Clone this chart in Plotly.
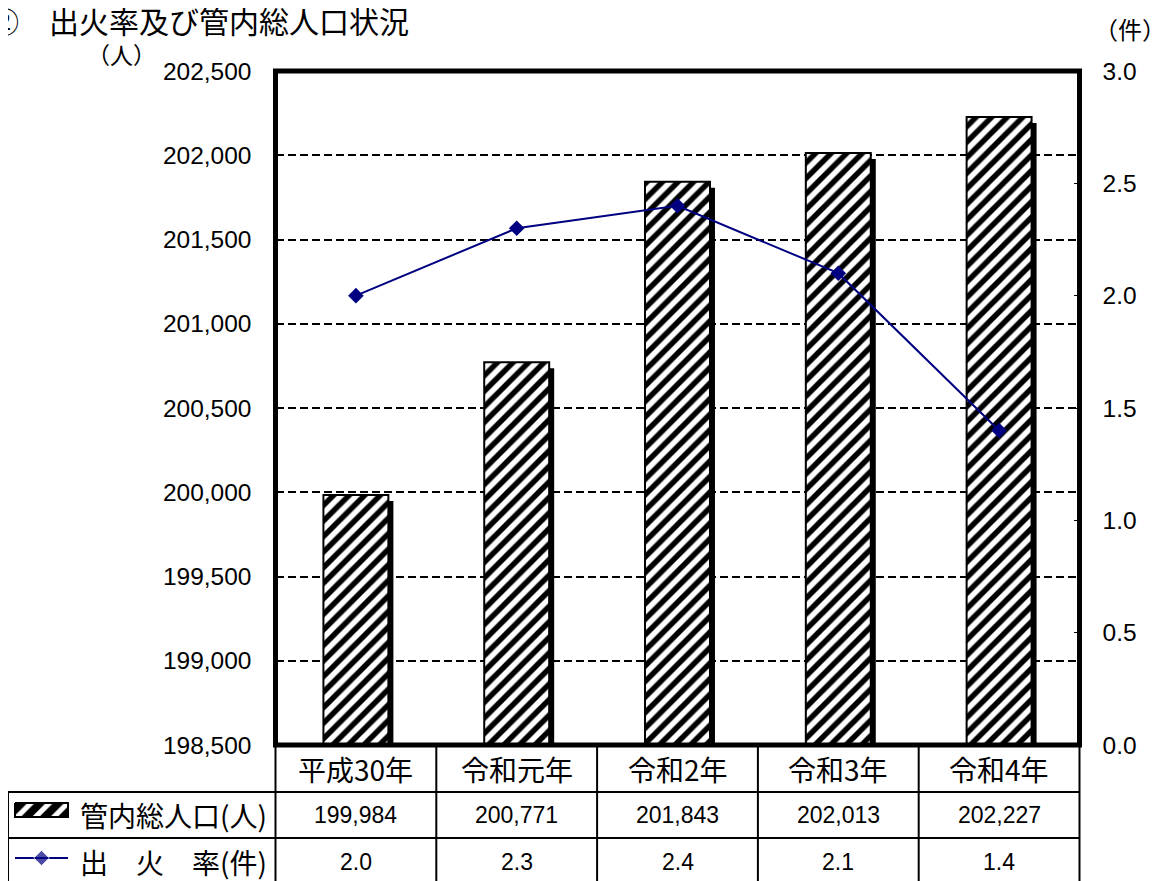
import plotly.graph_objects as go

# ---------------- data ----------------
categories = ["平成30年", "令和元年", "令和2年", "令和3年", "令和4年"]
population = [199984, 200771, 201843, 202013, 202227]
fire_rate = [2.0, 2.3, 2.4, 2.1, 1.4]

title_text = "②　出火率及び管内総人口状況"
left_unit = "（人）"
right_unit = "（件）"
row_label_pop = "管内総人口(人)"
row_label_rate = "出　火　率(件)"

# ---------------- layout helpers ----------------
# page has an 8px body margin, so figure coords = page coords - 8
OFF = 8
W, H = 1164 - OFF, 881 - OFF
def fx(px):
    return (px - OFF) / W
def fy(py):
    return 1 - (py - OFF) / H

PL, PR, PT, PB = 275.5, 1079.5, 71, 745   # plot box (page px)
Y_MIN, Y_MAX = 198500, 202500
Y2_MIN, Y2_MAX = 0, 3.0
cat_px = (PR - PL) / len(categories)
bar_w = 0.404
shadow_dx = 5 / cat_px
shadow_dy = 6 * (Y_MAX - Y_MIN) / (PB - PT)

JP = "Noto Sans CJK JP"
NUM = "Liberation Sans Narrow, Liberation Sans, Arial"
TICK = "Liberation Sans, Arial"
NAVY = "#000080"

fig = go.Figure()

# shadow bars
fig.add_trace(go.Bar(
    x=categories, y=[p - shadow_dy for p in population],
    width=bar_w, offset=-bar_w / 2 + shadow_dx,
    marker=dict(color="black", line=dict(width=0)),
    showlegend=False, hoverinfo="skip"))
# hatched bars
fig.add_trace(go.Bar(
    x=categories, y=population, width=bar_w, offset=-bar_w / 2,
    marker=dict(color="white", line=dict(color="black", width=2),
                pattern=dict(shape="/", fgcolor="black", bgcolor="white",
                             fgopacity=1, size=11, solidity=0.5)),
    showlegend=False, name=row_label_pop))
# fire rate line
fig.add_trace(go.Scatter(
    x=categories, y=fire_rate, yaxis="y2", mode="lines+markers",
    line=dict(color=NAVY, width=2),
    marker=dict(symbol="diamond", size=12, color=NAVY),
    showlegend=False, name=row_label_rate))

# legend icons inside the table (overlay pixel axes, page px)
fig.add_trace(go.Scatter(
    x=[15, 68, 68, 15, 15], y=[803, 803, 817, 817, 803],
    xaxis="x3", yaxis="y3", mode="lines", fill="toself",
    fillcolor="white",
    fillpattern=dict(shape="/", fgcolor="black", bgcolor="white", fgopacity=1,
                     size=13, solidity=0.6),
    line=dict(color="black", width=2), showlegend=False, hoverinfo="skip"))
fig.add_trace(go.Scatter(
    x=[15, 41.5, 68], y=[858, 858, 858], xaxis="x3", yaxis="y3",
    mode="lines+markers", line=dict(color=NAVY, width=2),
    marker=dict(symbol="diamond", size=[0, 12, 0], color=NAVY),
    showlegend=False, hoverinfo="skip"))

fig.update_layout(
    width=W, height=H,
    margin=dict(l=0, r=0, t=0, b=0),
    paper_bgcolor="white", plot_bgcolor="rgba(0,0,0,0)",
    barmode="overlay",
    xaxis=dict(domain=[fx(PL), fx(PR)], range=[-0.5, len(categories) - 0.5],
               showticklabels=False, showgrid=False, zeroline=False,
               showline=False, ticks="", automargin=False, fixedrange=True),
    yaxis=dict(domain=[fy(PB), fy(PT)], range=[Y_MIN, Y_MAX], dtick=500,
               tickformat=",", showgrid=True, gridcolor="black", gridwidth=2,
               griddash="8px,4px", zeroline=False, showline=False, ticks="",
               tickfont=dict(family=TICK, size=24.5, color="black"),
               ticklabelstandoff=23, automargin=False, fixedrange=True),
    yaxis2=dict(overlaying="y", side="right", range=[Y2_MIN, Y2_MAX], dtick=0.5,
                tickformat=".1f", showgrid=False, zeroline=False, showline=False,
                ticks="inside", ticklen=6, tickwidth=1, tickcolor="black",
                tickfont=dict(family=TICK, size=24.5, color="black"),
                ticklabelstandoff=22, automargin=False, fixedrange=True),
    xaxis3=dict(domain=[0, 1], range=[OFF, OFF + W], visible=False, fixedrange=True,
                anchor="y3"),
    yaxis3=dict(domain=[0, 1], range=[OFF + H, OFF], visible=False, fixedrange=True,
                anchor="x3"),
)

# plot border and table grid
shapes = [dict(type="rect", xref="paper", yref="paper",
               x0=fx(PL), x1=fx(PR), y0=fy(PB), y1=fy(PT),
               line=dict(color="black", width=5), layer="above")]
ROW1, ROW2, ROW3 = 792, 838, 884
for yy in (ROW1, ROW2, ROW3):
    shapes.append(dict(type="line", xref="paper", yref="paper",
                       x0=fx(8), x1=fx(PR), y0=fy(yy), y1=fy(yy),
                       line=dict(color="black", width=2)))
shapes.append(dict(type="line", xref="paper", yref="paper",
                   x0=fx(8), x1=fx(8), y0=fy(ROW1), y1=fy(ROW3),
                   line=dict(color="black", width=2)))
for k in range(len(categories) + 1):
    xx = PL + k * cat_px
    shapes.append(dict(type="line", xref="paper", yref="paper",
                       x0=fx(xx), x1=fx(xx), y0=fy(PB), y1=fy(ROW3),
                       line=dict(color="black", width=2)))
fig.update_layout(shapes=shapes)

ann = []
ann.append(dict(text=title_text, xref="paper", yref="paper", x=fx(-13), y=fy(20),
                xanchor="left", yanchor="middle", showarrow=False,
                font=dict(family=JP, size=30, color="black")))
ann.append(dict(text=left_unit, xref="paper", yref="paper", x=fx(121), y=fy(54),
                xanchor="center", yanchor="middle", showarrow=False,
                font=dict(family=JP, size=23, color="black")))
ann.append(dict(text=right_unit, xref="paper", yref="paper", x=fx(1130), y=fy(28),
                xanchor="center", yanchor="middle", showarrow=False,
                font=dict(family=JP, size=24, color="black")))
for c, p, r in zip(categories, population, fire_rate):
    ann.append(dict(text=c, xref="x", yref="paper", x=c, y=fy(769),
                    xanchor="center", yanchor="middle", showarrow=False,
                    font=dict(family=JP, size=28, color="black")))
    ann.append(dict(text=f"{p:,}", xref="x", yref="paper", x=c, y=fy(815),
                    xanchor="center", yanchor="middle", showarrow=False,
                    font=dict(family=NUM, size=23, color="black")))
    ann.append(dict(text=f"{r:.1f}", xref="x", yref="paper", x=c, y=fy(862),
                    xanchor="center", yanchor="middle", showarrow=False,
                    font=dict(family=NUM, size=23, color="black")))
ann.append(dict(text=row_label_pop, xref="paper", yref="paper", x=fx(269), y=fy(815),
                xanchor="right", yanchor="middle", showarrow=False,
                font=dict(family=JP, size=28, color="black")))
ann.append(dict(text=row_label_rate, xref="paper", yref="paper", x=fx(269), y=fy(862),
                xanchor="right", yanchor="middle", showarrow=False,
                font=dict(family=JP, size=28, color="black")))
fig.update_layout(annotations=ann)

fig.write_html("out.html")
